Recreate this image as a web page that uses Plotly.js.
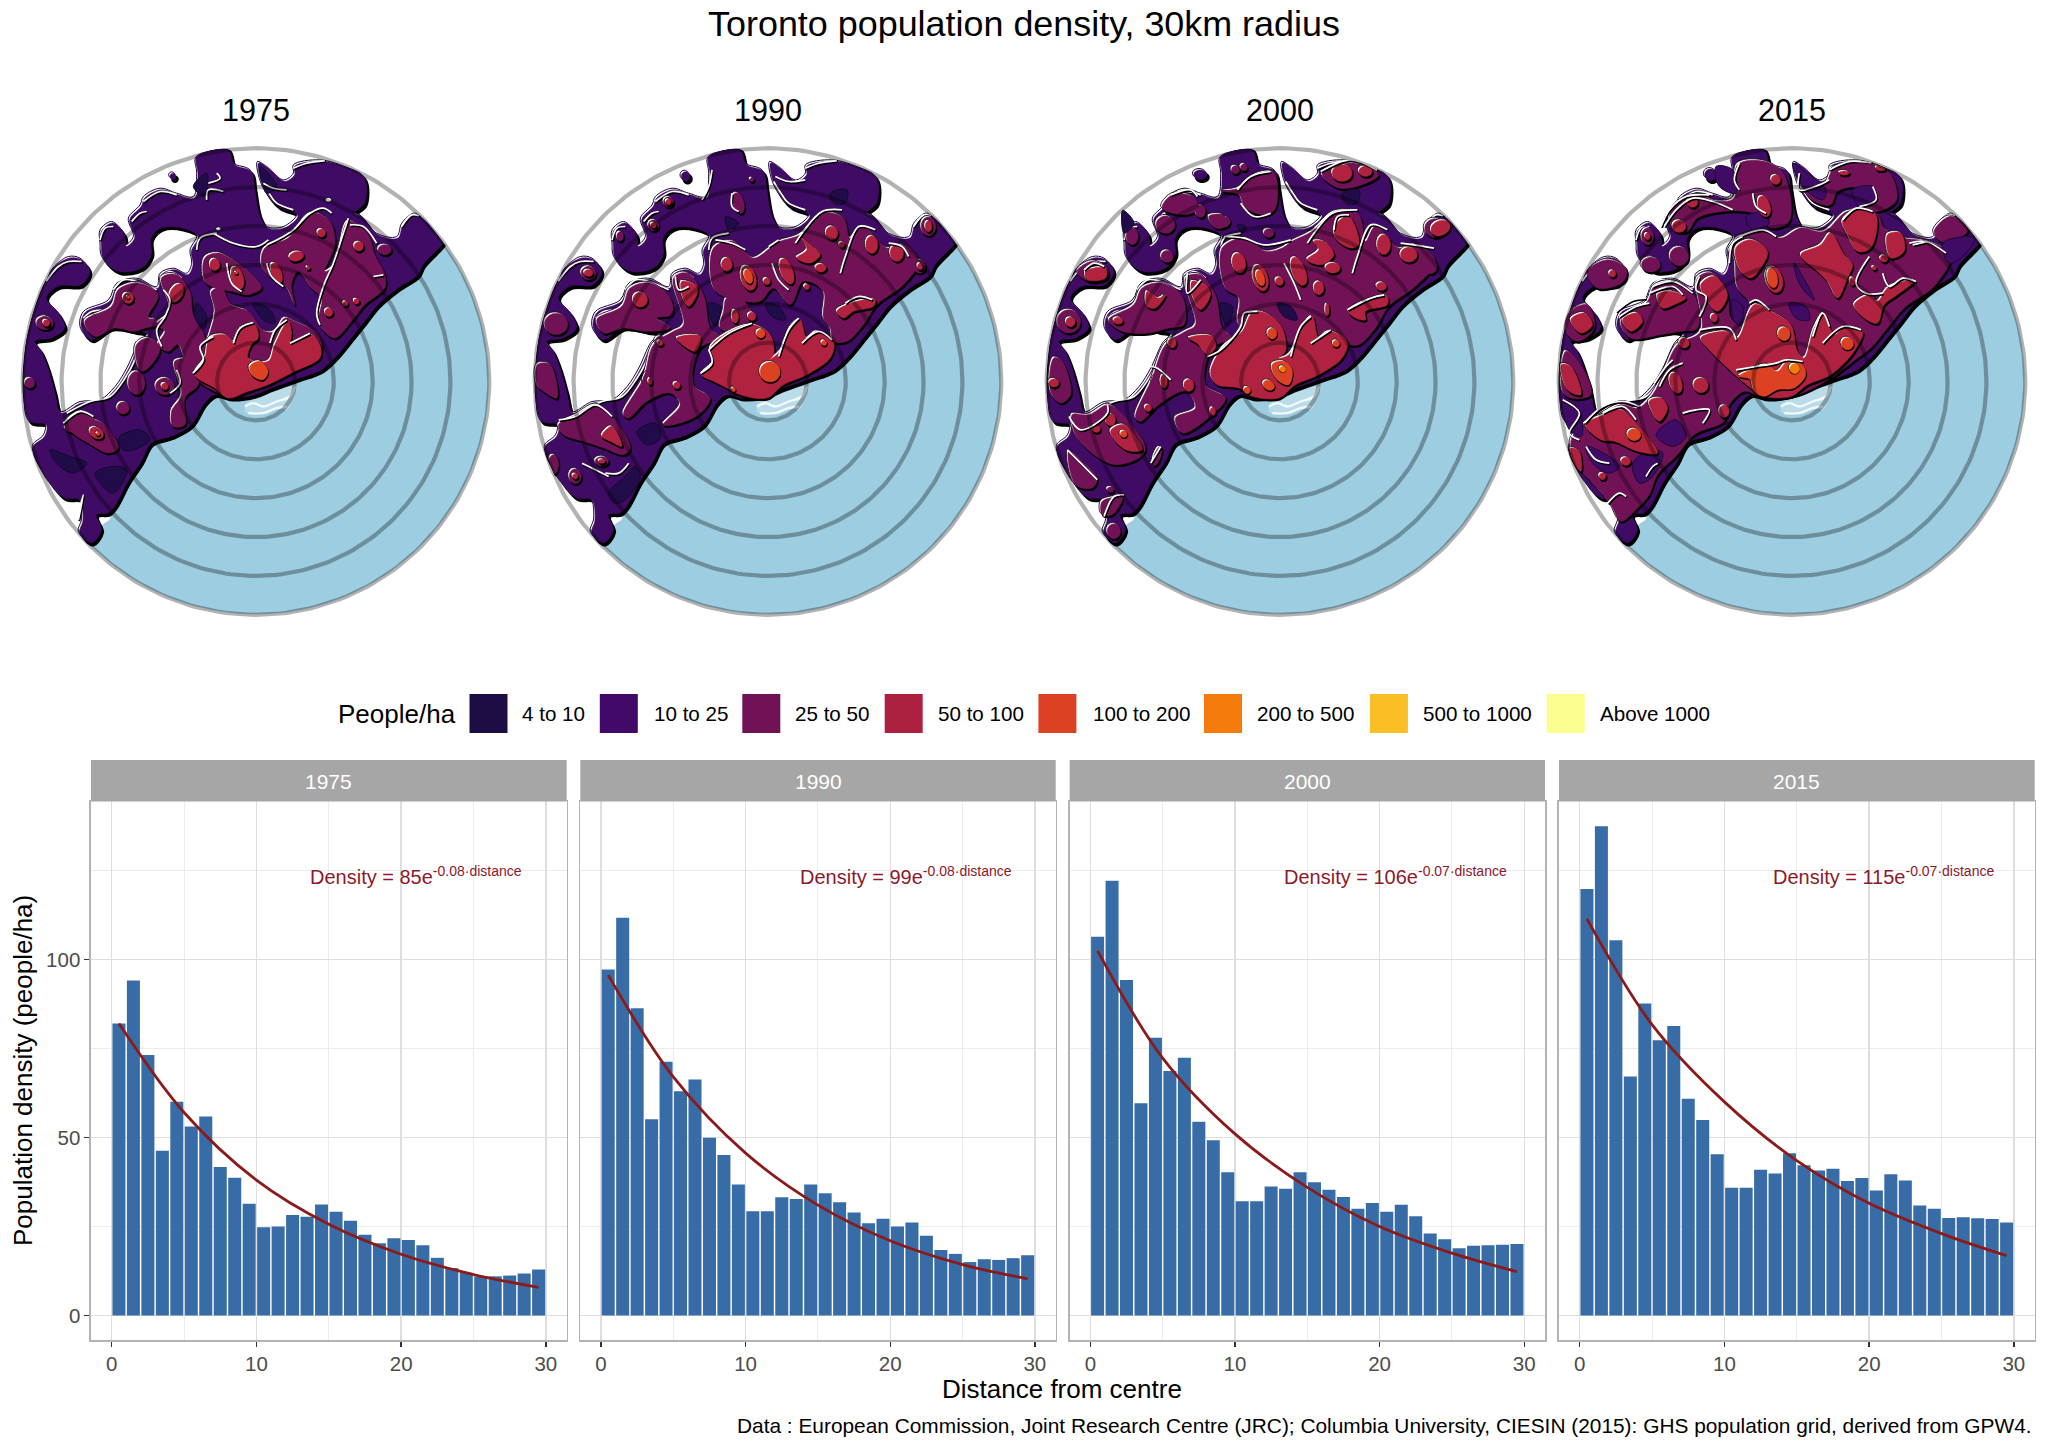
<!DOCTYPE html>
<html><head><meta charset="utf-8">
<script src="https://cdn.plot.ly/plotly-3.0.1.min.js"></script>
<style>html,body{margin:0;padding:0;background:#fff}</style></head>
<body><div id="chart" style="width:2048px;height:1451px"></div>
<script>
// ---------- bar data (people/ha by 1 km distance bin) ----------
const years = ["1975", "1990", "2000", "2015"];
const distanceBins = [0.5,1.5,2.5,3.5,4.5,5.5,6.5,7.5,8.5,9.5,10.5,11.5,12.5,13.5,14.5,15.5,16.5,17.5,18.5,19.5,20.5,21.5,22.5,23.5,24.5,25.5,26.5,27.5,28.5,29.5];
const density1975 = [82,94.1,73.2,46.3,60,53.1,55.9,41.7,38.7,31.4,24.8,25,28.2,27.7,31.2,29.1,26.6,22.7,20.3,21.7,21.2,19.7,16.2,13.3,12,10.9,11,11.2,11.8,12.9];
const density1990 = [97.2,111.7,86.3,55.1,71.3,63,66.3,49.9,45.1,36.8,29.3,29.3,33.2,32.7,36.8,34.3,31.8,28.9,25.9,27.2,25,26.1,22.4,18.4,17.3,15,15.8,15.6,16.1,16.9];
const density2000 = [106.4,122.1,94.2,59.6,78,68.7,72.4,54.4,49.2,40.2,32.1,32.1,36.2,35.6,40.2,37.4,35.3,33.3,30,31.6,29.1,31.1,27.9,23,21.4,18.9,19.6,19.7,19.9,20.1];
const density2015 = [119.8,137.4,105.4,67.1,87.6,77.3,81.3,60.9,54.9,45.3,35.9,35.9,40.9,39.9,45.6,42.2,40.7,41.2,37.8,38.6,35.1,39.7,37.9,30.9,30,27.4,27.6,27.3,27.1,26.1];
const fitDistance = [0.5,5,10,15,20,25,29.5];
const fit1975 = [82,57,38,25.6,17.2,11.5,7.9];
const fit1990 = [95.6,67,45.6,31,21,14.3,10.3];
const fit2000 = [102.4,72.3,51,36,25,17.5,12.3];
const fit2015 = [111.4,81.7,60,43.5,31.5,23,16.8];
const fitIntercepts = ["85","99","106","115"];
const fitRates = ["-0.08","-0.08","-0.07","-0.07"];

// ---------- legend ----------
const legendLabels = ["4 to 10","10 to 25","25 to 50","50 to 100","100 to 200","200 to 500","500 to 1000","Above 1000"];
const legendColors = ["#1e0c45","#420a68","#711257","#ac2140","#dd4124","#f57b0c","#fabf25","#fcfd8f"];

// ---------- map data: outlines (700 units = 30 km) ----------
const lakeShore = [[1325,335],[1265,400],[1250,430],[1190,470],[1130,520],[1090,570],[1050,620],[1000,680],[960,715],[880,745],[810,770],[760,790],[690,800],[640,790],[610,815],[570,880],[510,915],[450,935],[420,990],[380,1050],[340,1125],[330,1170],[300,1190],[275,1240]];
const landRing = [[1325,335],[1265,400],[1250,430],[1190,470],[1130,520],[1090,570],[1050,620],[1000,680],[960,715],[880,745],[810,770],[760,790],[690,800],[640,790],[610,815],[570,880],[510,915],[450,935],[420,990],[380,1050],[340,1125],[320,1145],[285,1150],[300,1195],[270,1235],[235,1205],[245,1165],[235,1105],[190,1100],[150,1060],[100,1000],[85,950],[130,915],[135,880],[85,870],[60,800],[50,640],[60,520],[125,440],[155,410],[205,380],[240,385],[265,420],[240,460],[170,465],[135,500],[175,550],[190,590],[150,620],[100,630],[120,660],[140,710],[160,780],[180,845],[240,815],[300,810],[345,770],[380,715],[415,640],[440,610],[400,600],[330,590],[270,625],[240,590],[250,545],[325,510],[350,460],[410,445],[470,470],[480,430],[520,415],[560,430],[575,400],[570,360],[590,315],[540,290],[480,290],[450,320],[450,370],[420,410],[350,420],[305,380],[300,340],[300,300],[335,275],[370,310],[375,345],[400,320],[385,265],[420,225],[430,200],[480,175],[530,190],[580,200],[590,130],[585,70],[680,50],[700,100],[750,120],[760,170],[775,250],[800,290],[850,290],[890,255],[880,245],[830,225],[785,165],[772,95],[800,110],[850,150],[880,130],[880,105],[960,90],[1050,100],[1090,140],[1090,215],[1060,245],[1080,255],[1130,310],[1190,320],[1205,280],[1240,250],[1265,240],[1340,320]];
const landHoles = [[985,210,10,7],[655,297,8,6]];
const islandPatch = [[[740,850],[735,825],[790,800],[880,770],[880,800],[860,840],[830,835],[790,850]]];
const islandWisps = [[[735,830],[760,820],[790,830],[830,815],[870,800],[885,770]],[[745,850],[790,850],[830,835],[860,830]]];
const landDots = {"1975":[[515,135,9,9],[925,207,8,8]],"1990":[[517,135,13,14]],"2000":[[525,130,20,14]],"2015":[[520,130,18,17]]};
const landGlints = [[[130,450],[175,410],[205,395],[245,395]],[[300,330],[315,295],[340,290]],[[395,275],[420,250],[440,245]],[[430,215],[480,185],[530,195]],[[880,115],[920,100],[975,92]],[[785,155],[810,195],[830,220],[880,240]],[[1205,290],[1235,255],[1260,255]],[[250,565],[275,545],[330,540]],[[340,480],[370,450],[410,455],[470,480]],[[480,445],[510,425],[545,445]],[[415,650],[400,700],[375,745],[330,800],[270,815],[200,850]],[[590,360],[600,325],[650,310]]];

// 1975
const patch4_1975 = [[[285,1030],[340,1010],[380,1020],[340,1090],[300,1060]],[[150,960],[210,980],[260,1000],[220,1030],[170,1000]],[[355,925],[420,900],[450,930],[400,960],[370,960]],[[760,520],[810,540],[825,580],[790,570]],[[580,170],[620,130],[615,200]],[[780,110],[830,170],[800,190]],[[590,520],[620,560],[610,600],[585,560]]];
const band25_1975 = [[[250,570],[330,525],[350,475],[410,455],[470,490],[440,560],[470,580],[430,590],[400,600],[340,590],[280,615]],[[480,440],[525,430],[565,480],[575,550],[610,620],[590,690],[560,700],[530,640],[500,660],[470,640],[490,600],[465,580],[505,540]],[[520,690],[590,690],[590,760],[550,800],[550,880],[515,885],[510,840],[540,790]],[[405,640],[440,620],[475,650],[450,700],[420,720],[405,690]],[[790,350],[860,320],[930,245],[985,270],[1000,340],[970,420],[1000,400],[1040,270],[1100,310],[1120,370],[1150,430],[1150,470],[1090,520],[1050,570],[1000,620],[960,590],[950,570],[960,500],[930,470],[890,420],[870,460],[880,520],[850,460],[810,440],[780,400]],[[610,380],[650,365],[700,390],[770,450],[780,470],[740,490],[690,480],[640,470],[610,450]],[[630,480],[660,470],[690,520],[740,540],[790,600],[820,600],[850,560],[880,570],[950,610],[960,660],[920,700],[830,730],[700,790],[640,780],[580,730],[620,620],[640,540]],[[190,880],[240,840],[270,860],[310,880],[350,950],[320,965],[260,935],[220,910]]];
const dots25_1975 = [[405,755,25,35],[490,765,28,25],[365,830,18,18],[130,575,25,20],[445,570,20,8],[290,568,20,15],[1150,355,20,15],[1100,400,15,12],[85,755,15,15],[210,890,20,12]];
const band50_1975 = [[[580,730],[610,680],[625,620],[670,610],[700,630],[720,590],[760,580],[770,620],[750,640],[740,680],[800,690],[820,640],[860,570],[870,600],[870,640],[930,610],[955,640],[955,680],[880,720],[800,760],[740,780],[680,800],[640,770]]];
const dots50_1975 = [[380,500,16,16],[525,485,18,30,30],[640,400,15,18],[708,440,18,35,-15],[885,375,22,14,-15],[825,425,15,32,-20],[960,305,12,12],[1072,345,14,14],[982,543,12,12],[1065,510,8,8],[1032,517,7,7],[490,765,10,10],[285,905,22,16,30],[738,605,14,14],[135,575,10,10],[920,410,5,5]];
const band100_1975 = [[[745,705],[775,690],[800,720],[785,745],[755,735]]];
const dots100_1975 = [[705,425,4,4],[290,908,5,5],[380,498,4,4]];
const glints_1975 = [[[800,345],[850,320],[880,300],[930,250],[970,235],[995,250]],[[1045,265],[1030,310],[1000,400],[970,470],[950,550],[960,585]],[[1050,285],[1090,290],[1130,340]],[[640,310],[700,340],[770,350],[805,330]],[[490,480],[510,510],[495,560],[470,600],[485,650]],[[680,400],[695,460],[725,485]],[[640,620],[600,650],[610,690],[578,730]],[[700,640],[720,595],[760,578]],[[810,640],[825,600],[860,570]],[[870,640],[930,610]],[[190,880],[240,845],[280,860]],[[510,790],[540,760],[530,720]],[[800,400],[815,440],[850,470]],[[625,160],[660,145],[650,130]],[[620,210],[625,180],[670,185]],[[790,160],[820,175],[860,180]],[[240,1130],[250,1095],[235,1170]],[[1120,440],[1150,435]]];

// 1990
const patch4_1990 = [[[640,260],[680,280],[650,300]],[[760,520],[800,530],[820,570],[780,560]],[[955,190],[1005,180],[1000,220],[965,220]],[[290,1090],[340,1040],[370,1010],[385,1040],[340,1110],[310,1120]],[[590,520],[625,530],[610,590],[595,560]],[[375,905],[430,880],[445,925],[405,945]]];
const band25_1990 = [[[250,565],[325,525],[350,470],[410,455],[470,500],[475,550],[430,560],[470,590],[400,600],[330,590],[270,605]],[[480,440],[520,425],[570,490],[590,590],[620,620],[560,650],[540,760],[590,800],[555,850],[480,880],[450,880],[500,820],[470,785],[400,810],[345,860],[330,850],[390,740],[420,640],[480,600],[510,580]],[[600,350],[660,330],[720,380],[770,350],[800,330],[860,310],[930,245],[990,260],[1010,320],[1050,285],[1120,350],[1170,340],[1215,390],[1170,460],[1090,520],[1050,580],[1000,630],[960,630],[950,590],[930,560],[930,480],[870,450],[830,520],[780,470],[740,510],[690,510],[640,500],[600,470]],[[640,500],[690,510],[720,560],[650,600],[620,590],[630,540]],[[135,880],[190,850],[250,820],[300,860],[350,950],[330,970],[270,950],[210,930],[150,910]],[[72,700],[110,700],[130,800],[90,780],[70,760]]];
const dots25_1990 = [[128,578,35,32],[225,425,22,20],[1245,285,22,28],[465,212,15,15],[420,282,16,16],[320,315,10,14],[675,215,16,32,-15],[410,750,22,30],[490,762,18,18],[185,1035,18,22],[265,990,20,14],[1160,370,30,30],[1218,405,18,20],[440,630,15,15],[715,145,6,6],[1105,400,15,12],[120,1000,15,30]];
const band50_1990 = [[[565,730],[600,690],[590,650],[650,600],[720,580],[770,610],[780,670],[760,690],[800,660],[830,590],[860,565],[880,620],[910,600],[960,630],[950,680],[880,730],[810,760],[760,800],[680,790],[640,770],[600,750]],[[505,450],[550,465],[550,490],[525,525],[505,490]],[[865,320],[895,345],[920,370],[890,395],[850,380],[880,355]],[[970,540],[1030,510],[1085,505],[1080,525],[1020,540],[990,560]],[[490,620],[560,615],[545,660]],[[265,915],[295,885],[325,945],[290,930]]];
const dots50_1990 = [[380,505,22,22],[640,400,16,20],[705,440,22,38,-15],[820,420,18,40,-20],[955,305,18,20],[1075,340,18,26],[1150,365,20,25],[922,410,16,12],[880,467,8,8],[760,450,10,10],[715,555,12,12],[665,555,10,20],[440,635,8,8],[410,750,6,10],[490,762,10,10],[1245,285,10,16],[225,425,13,10],[465,212,8,8],[420,282,8,8],[185,1035,8,8],[265,990,10,6],[985,340,8,8],[1220,405,8,10],[665,775,10,10],[738,770,8,8]];
const dots100_1990 = [[770,722,30,30],[705,435,12,22,-15],[742,607,13,13],[932,635,8,8],[660,775,6,6]];
const glints_1990 = [[[850,340],[870,310],[930,245],[990,240]],[[985,430],[1000,380],[1040,290],[1090,300]],[[1130,340],[1170,350],[1190,380]],[[610,330],[660,340],[700,360]],[[770,350],[800,330]],[[490,440],[500,480],[530,470]],[[590,660],[650,610],[720,580]],[[565,730],[600,700],[590,660]],[[800,680],[830,600],[860,565]],[[870,640],[920,605],[960,630]],[[1000,520],[1040,500],[1080,510]],[[140,870],[190,860],[250,825],[300,860]],[[660,190],[660,230],[680,245]],[[600,120],[590,170],[570,210]],[[790,140],[830,155],[880,150]],[[780,400],[800,450],[830,480]],[[280,1030],[320,1030],[350,1000]],[[210,1000],[250,1020],[290,1040]]];

// 2000
const patch4_2000 = [[[760,520],[800,530],[820,570],[780,560]],[[640,285],[665,290],[655,310]],[[955,190],[1005,180],[1000,220],[965,220]],[[590,520],[625,530],[610,590],[595,560]],[[295,240],[330,280],[300,310]]];
const band25_2000 = [[[590,180],[640,170],[690,130],[745,125],[750,230],[720,250],[660,230],[640,190]],[[410,230],[440,190],[500,195],[520,230],[480,250]],[[890,130],[980,95],[1060,130],[1010,160],[940,170]],[[550,255],[590,250],[610,280],[570,290]],[[250,565],[325,520],[350,470],[410,455],[470,495],[475,580],[430,590],[370,605],[290,600]],[[480,440],[525,430],[570,490],[590,590],[620,620],[560,650],[540,760],[600,800],[560,850],[470,905],[450,860],[510,830],[480,780],[400,820],[345,870],[330,860],[380,740],[420,640],[480,600],[510,580]],[[590,350],[660,320],[720,360],[770,350],[800,330],[860,300],[930,240],[1000,250],[1020,330],[1050,285],[1120,350],[1170,340],[1230,390],[1170,465],[1090,525],[1050,590],[1000,640],[960,640],[880,650],[780,640],[740,650],[640,580],[640,500],[600,470]],[[155,420],[200,390],[245,410],[245,440],[190,450]],[[85,680],[110,690],[135,790],[105,815],[75,780]],[[140,850],[190,850],[250,820],[300,860],[360,950],[340,980],[270,1000],[220,980],[150,910]],[[130,960],[180,1000],[215,1040],[200,1070],[150,1060]],[[230,1110],[290,1100],[260,1150],[230,1150]]];
const dots25_2000 = [[130,570,35,35],[265,1200,20,22],[320,315,18,25],[420,280,28,26],[425,375,18,18],[1230,290,32,28],[730,305,15,13],[630,115,12,12],[655,108,10,10],[590,270,25,15],[525,240,15,18],[1215,405,20,22],[405,755,25,30],[368,830,15,15],[490,760,20,22],[395,975,10,30,20],[255,1075,10,8]];
const band50_2000 = [[[555,725],[590,650],[650,600],[680,545],[720,545],[770,590],[780,660],[760,680],[790,670],[830,590],[860,555],[880,620],[910,600],[965,630],[950,680],[880,730],[810,760],[760,800],[680,795],[640,770],[575,760]],[[490,620],[560,615],[570,650],[545,670],[520,640]],[[970,540],[1030,505],[1085,495],[1085,520],[1020,540],[1020,565],[990,560]],[[865,330],[895,330],[925,370],[890,400],[845,385],[880,355]],[[930,280],[970,255],[1000,340],[975,350],[930,320]],[[500,450],[545,465],[555,490],[525,535],[500,490]],[[365,480],[400,500],[420,490],[390,530],[365,525]],[[180,420],[240,410],[240,440],[185,445]],[[255,900],[295,880],[350,955],[300,955]]];
const dots50_2000 = [[640,395,20,30,-10],[705,440,22,40,-15],[820,420,20,45,-20],[1075,340,20,30],[1150,370,25,22],[922,410,22,15],[880,470,15,20],[762,450,12,12],[1068,465,15,12],[1245,290,30,22,-25],[135,572,14,14],[278,568,14,10],[440,635,12,14],[490,762,15,18],[415,750,10,20],[368,830,10,10],[212,893,12,10],[255,865,15,18],[85,755,15,12],[562,840,8,12],[950,125,30,25],[1020,120,20,15],[905,535,6,18]];
const band100_2000 = [[[740,700],[775,690],[800,715],[790,760],[755,745]]];
const dots100_2000 = [[705,440,12,24,-15],[740,607,14,16],[932,637,10,10],[730,762,18,14,30],[665,777,10,10],[295,908,10,10]];
const dots200_2000 = [[772,714,9,9]];
const glints_2000 = [[[850,340],[870,310],[925,250],[1000,240]],[[930,300],[940,260],[975,255]],[[985,430],[1000,380],[1040,285],[1090,300]],[[1130,340],[1170,345],[1230,355]],[[600,320],[660,325],[720,345],[800,330]],[[490,430],[490,490],[530,450]],[[550,680],[590,660],[650,590],[660,550],[700,545]],[[800,680],[830,590],[860,560]],[[860,640],[920,600]],[[970,540],[1040,505],[1080,495]],[[640,180],[680,140],[740,125]],[[650,220],[690,260],[740,250]],[[440,195],[500,180],[520,200]],[[890,125],[980,90],[1060,120]],[[180,420],[210,400],[240,410]],[[135,860],[170,900],[250,850],[250,825]],[[380,710],[400,715],[440,750]],[[240,1160],[270,1100],[300,1095]],[[130,960],[170,1000],[220,1050]],[[380,1000],[410,950]],[[780,400],[810,460],[830,510]]];

// 2015
const band25_2015 = [[[590,200],[600,100],[680,90],[740,130],[755,270],[700,290],[660,250],[620,240],[560,240],[480,260],[450,300],[420,300],[395,260],[420,215],[480,190],[540,210]],[[780,110],[860,160],[890,110],[990,95],[1060,130],[1075,210],[1000,240],[960,170],[900,180],[880,220],[830,210],[790,160]],[[575,360],[610,320],[680,300],[730,320],[790,290],[860,300],[930,240],[1020,250],[1040,290],[1100,320],[1170,330],[1240,370],[1190,465],[1100,530],[1050,590],[1000,650],[960,680],[880,740],[780,790],[680,800],[620,780],[570,830],[560,870],[470,910],[420,970],[360,1030],[335,1090],[300,1130],[250,1170],[220,1120],[170,1060],[120,1000],[100,930],[135,880],[190,850],[250,820],[300,830],[345,790],[380,720],[420,640],[490,600],[480,440],[525,425],[570,490],[580,560],[620,590],[640,520],[600,470],[590,380]],[[95,540],[150,520],[170,590],[120,630],[85,600]],[[150,420],[210,385],[265,410],[260,450],[180,470]],[[85,660],[130,700],[160,790],[100,800],[75,780]],[[250,570],[330,510],[350,465],[410,450],[470,490],[480,590],[430,600],[370,610],[280,620]],[[1190,300],[1240,255],[1290,300],[1250,325],[1210,330]]];
const dots25_2015 = [[425,375,28,28],[330,315,18,25],[340,400,28,22]];
const patch10_2015 = [[[290,1000],[350,960],[380,970],[350,1040],[310,1060]],[[360,915],[420,870],[450,920],[410,950]],[[775,400],[800,440],[835,510],[815,495],[785,450]],[[590,510],[620,530],[610,590],[590,560]],[[150,950],[220,980],[250,1010],[220,1030],[170,1000]],[[80,810],[130,840],[135,920],[100,900]],[[630,260],[680,250],[700,280],[650,300]],[[540,110],[590,120],[600,190],[550,170]],[[770,100],[800,120],[870,180],[860,210],[800,170]],[[950,180],[1010,170],[1020,210],[970,230]],[[1220,340],[1320,320],[1290,370],[1240,400]],[[760,520],[810,530],[820,570],[780,565]]];
const band50_2015 = [[[490,620],[560,600],[575,605],[600,620],[650,520],[700,540],[760,580],[780,660],[800,680],[830,590],[860,545],[890,610],[920,590],[975,600],[950,660],[880,730],[810,760],[760,795],[680,795],[640,770],[560,700],[520,660]],[[790,370],[850,340],[880,305],[920,370],[945,400],[930,440],[900,500],[870,450],[840,420]],[[915,270],[960,235],[1015,250],[1000,350],[960,360],[930,310]],[[595,350],[640,325],[690,360],[670,410],[640,440],[610,420]],[[490,460],[530,435],[570,490],[540,540],[510,510]],[[360,490],[400,480],[445,500],[410,520],[375,530]],[[255,565],[300,545],[315,570],[280,600]],[[145,880],[200,850],[250,835],[300,880],[360,965],[300,960],[230,930],[190,925]],[[1050,310],[1090,305],[1100,360],[1060,380]],[[950,520],[1000,490],[1020,510],[1050,470],[1100,450],[1130,450],[1080,490],[1040,520],[1020,575],[980,560]],[[100,565],[140,545],[165,580],[130,605]],[[72,700],[100,705],[130,790],[90,775]],[[100,950],[125,960],[130,1020],[100,1000]],[[335,810],[370,800],[390,830],[365,870]]];
const dots50_2015 = [[415,755,18,32,-15],[490,762,22,22],[440,635,15,15],[225,427,10,10],[265,990,14,12],[195,1035,10,10],[560,840,15,18],[530,560,10,12],[1040,382,12,10],[1010,410,6,6],[945,450,8,12],[840,620,6,6],[830,658,10,10],[465,212,16,16],[425,285,20,18],[330,315,8,10],[680,225,18,32,-15],[715,145,14,14],[920,125,15,6],[1030,110,15,8],[710,445,25,40,-15]];
const band100_2015 = [[[605,735],[640,715],[690,700],[720,720],[750,690],[790,695],[805,730],[770,770],[720,775],[680,795],[650,780],[640,745]]];
const dots100_2015 = [[740,608,18,20],[930,637,18,18],[705,440,15,30,-10],[290,910,20,18]];
const dots200_2015 = [[772,712,15,15]];
const glints_2015 = [[[610,320],[680,300],[720,320]],[[580,400],[590,340],[620,320]],[[385,290],[420,240],[470,205],[530,215],[590,240]],[[375,290],[400,240],[450,200],[520,195]],[[650,190],[660,230],[690,250]],[[610,100],[595,150],[610,180]],[[790,130],[790,180],[850,165],[880,150]],[[880,120],[940,95],[1010,90]],[[1010,170],[1020,210],[970,230]],[[920,270],[960,235],[1010,245]],[[1120,340],[1170,335],[1230,370]],[[1000,380],[960,460],[990,490],[1040,490]],[[1040,430],[1060,470],[1100,445],[1140,455]],[[490,600],[580,595],[600,630]],[[600,720],[660,710],[720,700],[750,690],[800,695]],[[830,620],[860,550],[880,590]],[[860,640],[920,590],[975,600]],[[640,520],[660,510],[700,540]],[[490,440],[480,480],[510,500],[490,560]],[[350,470],[410,455],[470,490]],[[340,490],[410,470],[440,495]],[[250,560],[300,530],[340,520]],[[240,545],[290,510],[330,505]],[[145,880],[200,830],[260,815],[310,830]],[[200,850],[260,830],[300,870]],[[80,810],[130,850],[100,910],[130,930]],[[215,1120],[250,1090],[270,1100]],[[330,1040],[350,1010],[365,1000]],[[1130,345],[1175,335]],[[440,700],[400,720],[370,770]],[[355,760],[390,710],[410,690]],[[500,880],[520,840],[480,840],[440,850]],[[150,950],[180,990],[220,1000]]];

const ringRadii = [5,10,15,20,25,30];

const mapLayers = {
 "1975":{p4:patch4_1975,b25:band25_1975,d25:dots25_1975,b50:band50_1975,d50:dots50_1975,b100:band100_1975,d100:dots100_1975,g:glints_1975},
 "1990":{p4:patch4_1990,b25:band25_1990,d25:dots25_1990,b50:band50_1990,d50:dots50_1990,b100:[],d100:dots100_1990,g:glints_1990},
 "2000":{p4:patch4_2000,b25:band25_2000,d25:dots25_2000,b50:band50_2000,d50:dots50_2000,b100:band100_2000,d100:dots100_2000,d200:dots200_2000,g:glints_2000},
 "2015":{p10:patch10_2015,b25:band25_2015,d25:dots25_2015,b50:band50_2015,d50:dots50_2015,b100:band100_2015,d100:dots100_2015,d200:dots200_2015,g:glints_2015}
};

// ---------- geometry helpers ----------
const W = 2048, H = 1451, FONT = '"Liberation Sans", Arial, sans-serif';
const px = v => v / W, py = v => 1 - v / H;
const UNIT = 30 / 700, CX = 768, CY = 755;
function ellipse(d) {
  const [x, y, rx, ry, rot] = d, a = (rot || 0) * Math.PI / 180, out = [];
  for (let i = 0; i < 10; i++) {
    const t = i / 10 * 2 * Math.PI, u = rx * Math.cos(t), v = ry * Math.sin(t);
    out.push([x + u * Math.cos(a) - v * Math.sin(a), y + u * Math.sin(a) + v * Math.cos(a)]);
  }
  return out;
}
function path(rings, dx, dy, open) {
  const xs = [], ys = [];
  rings.forEach(r => {
    (open ? r : r.concat([r[0]])).forEach(p => {
      let x = (p[0] + dx - CX) * UNIT, y = (CY - p[1] - dy) * UNIT, k = Math.hypot(x, y);
      if (k > 29.9) { x *= 29.9 / k; y *= 29.9 / k; }
      xs.push(x); ys.push(y);
    });
    xs.push(null); ys.push(null);
  });
  return [xs, ys];
}
const traces = [];
function fillTrace(i, rings, dx, dy, color, lineColor, lineW) {
  const [x, y] = path(rings, dx, dy);
  traces.push({type:'scatter', mode:'lines', x, y, xaxis:'x'+(i+1), yaxis:'y'+(i+1), fill:'toself', fillcolor:color,
    line:{color:lineColor||color, width:lineW===undefined?0.5:lineW, shape:'spline', smoothing:1}, hoverinfo:'skip', showlegend:false});
}
function band(i, rings, dots, color, sx, sy) {
  const all = (rings||[]).concat((dots||[]).map(ellipse));
  if (!all.length) return;
  fillTrace(i, all, sx, sy, '#000000', '#000000', 1.2);
  fillTrace(i, all, 0, 0, '#ffffff', '#111111', 0.9);
  fillTrace(i, all, 4.5, 4.5, color);
}
function glint(i, lines) {
  const b = path(lines, 3, 4, true), w = path(lines, 0, 0, true);
  traces.push({type:'scatter', mode:'lines', x:b[0], y:b[1], xaxis:'x'+(i+1), yaxis:'y'+(i+1), line:{color:'#000000',width:2,shape:'spline'}, hoverinfo:'skip', showlegend:false});
  traces.push({type:'scatter', mode:'lines', x:w[0], y:w[1], xaxis:'x'+(i+1), yaxis:'y'+(i+1), line:{color:'#ffffff',width:1.7,shape:'spline'}, hoverinfo:'skip', showlegend:false});
}
function circle(r) {
  const xs = [], ys = [];
  for (let a = 0; a <= 240; a++) { xs.push(r * Math.cos(a / 120 * Math.PI)); ys.push(r * Math.sin(a / 120 * Math.PI)); }
  return [xs, ys];
}

// ---------- maps ----------
const mapCenters = [256, 768, 1280, 1792], mapCY = 381.5, MAP_R = 233.3, MAP_HALF = 240;
const layout = {
  width:W, height:H, margin:{l:0,r:0,t:0,b:0}, paper_bgcolor:'#fff', plot_bgcolor:'rgba(0,0,0,0)', showlegend:false, bargap:0.1,
  font:{family:FONT, color:'#000'},
  title:{text:'Toronto population density, 30km radius', font:{family:FONT,size:35.9,color:'#000'}, x:0.5, xanchor:'center', y:1-23/H, yanchor:'middle'},
  shapes:[], annotations:[]
};
years.forEach((yr, i) => {
  const lr = mapLayers[yr], kmHalf = MAP_HALF * 30 / MAP_R, cx = mapCenters[i];
  layout['xaxis'+(i+1)] = {domain:[px(cx-MAP_HALF), px(cx+MAP_HALF)], range:[-kmHalf,kmHalf], visible:false, fixedrange:true, anchor:'y'+(i+1)};
  layout['yaxis'+(i+1)] = {domain:[py(mapCY+MAP_HALF), py(mapCY-MAP_HALF)], range:[-kmHalf,kmHalf], visible:false, fixedrange:true, anchor:'x'+(i+1)};
  const a0 = Math.atan2(CY-lakeShore[lakeShore.length-1][1], lakeShore[lakeShore.length-1][0]-CX), a1 = Math.atan2(CY-lakeShore[0][1], lakeShore[0][0]-CX);
  const start = a0 < 0 ? a0 + 2*Math.PI : a0, end = (a1 < 0 ? a1 + 2*Math.PI : a1) + 2*Math.PI;
  const lk = path([lakeShore], 0, 0), lx = lk[0].slice(0,-2), ly = lk[1].slice(0,-2);
  for (let k = 0; k <= 90; k++) { const t = start + (end-start)*k/90; lx.push(29.9*Math.cos(t)); ly.push(29.9*Math.sin(t)); }
  traces.push({type:'scatter', mode:'lines', x:lx, y:ly, xaxis:'x'+(i+1), yaxis:'y'+(i+1), fill:'toself', fillcolor:'#9dcde0', line:{color:'#9dcde0',width:0.5}, hoverinfo:'skip', showlegend:false});
  // islands
  fillTrace(i, islandPatch, 0, 0, 'rgba(255,255,255,0.3)', 'rgba(255,255,255,0)', 0);
  const isl = path(islandWisps, 0, 0, true);
  traces.push({type:'scatter', mode:'lines', x:isl[0], y:isl[1], xaxis:'x'+(i+1), yaxis:'y'+(i+1), line:{color:'rgba(255,255,255,0.85)',width:2.4,shape:'spline'}, hoverinfo:'skip', showlegend:false});
  // land and density bands
  const landAll = [landRing].concat(landDots[yr].map(ellipse));
  fillTrace(i, landAll, 10, 13, '#000000', '#000000', 1.5);
  fillTrace(i, landAll, 0, 0, '#ffffff', '#15082e', 1);
  fillTrace(i, landAll, 4, 4.5, '#3f0b64');
  fillTrace(i, landHoles.map(ellipse), 0, 0, '#ffffff', '#000000', 1);
  glint(i, landGlints);
  band(i, lr.b25, lr.d25, '#711257', 8, 10);
  if (lr.p10) fillTrace(i, lr.p10, 0, 0, '#3f0b64', '#1a0a3a', 1);
  if (lr.p4) fillTrace(i, lr.p4, 0, 0, '#210c4a', '#150830', 1);
  band(i, lr.b50, lr.d50, '#b0223f', 8, 10);
  band(i, lr.b100, lr.d100, '#dd4124', 6, 8);
  band(i, lr.b200, lr.d200, '#f57b0c', 4, 5);
  glint(i, lr.g);
  // tidy the outside of the map and draw distance rings
  const outer = circle(31);
  traces.push({type:'scatter', mode:'lines', x:outer[0], y:outer[1], xaxis:'x'+(i+1), yaxis:'y'+(i+1), line:{color:'#ffffff',width:10}, hoverinfo:'skip', showlegend:false});
  ringRadii.forEach(r => {
    const c = circle(r);
    traces.push({type:'scatter', mode:'lines', x:c[0], y:c[1], xaxis:'x'+(i+1), yaxis:'y'+(i+1), line:{color:'rgba(0,0,0,0.3)',width:4.2}, hoverinfo:'skip', showlegend:false});
  });
  layout.annotations.push({xref:'paper',yref:'paper',x:px(cx),y:py(110),text:yr,showarrow:false,font:{family:FONT,size:30.5,color:'#000'},xanchor:'center',yanchor:'middle'});
});

// ---------- bar panels ----------
const panelLeft = [91, 580.3, 1069.7, 1559], panelRight = [566.7, 1055.7, 1545, 2034.7];
const panelTop = 801.4, panelBottom = 1340, stripTop = 760;
const eqLeft = [307.5, 797.5, 1281.5, 1771];
const seriesByYear = [density1975, density1990, density2000, density2015];
const fitByYear = [fit1975, fit1990, fit2000, fit2015];
years.forEach((yr, i) => {
  const n = i + 5, ax = {
    linecolor:'#b3b3b3', linewidth:1.6, mirror:true, showline:true, zeroline:false, gridcolor:'#dedede', gridwidth:1.3, fixedrange:true,
    ticks:'outside', ticklen:5, tickwidth:1.3, tickcolor:'#333333', tickfont:{family:FONT,size:20.5,color:'#4d4d4d'}
  };
  layout['xaxis'+n] = Object.assign({}, ax, {domain:[px(panelLeft[i]),px(panelRight[i])], range:[-1.43,31.44], tickvals:[0,10,20,30], ticktext:['0','10','20','30'], anchor:'y'+n,
    minor:{tickvals:[5,15,25], showgrid:true, gridcolor:'#ececec', gridwidth:1, ticks:''}});
  layout['yaxis'+n] = Object.assign({}, ax, {domain:[py(panelBottom),py(panelTop)], range:[-6.89,144.4], tickvals:[0,50,100], ticktext:['0','50','100'], showticklabels:i===0, ticks:i===0?'outside':'', anchor:'x'+n,
    minor:{tickvals:[25,75,125], showgrid:true, gridcolor:'#ececec', gridwidth:1, ticks:''}});
  traces.push({type:'bar', x:distanceBins, y:seriesByYear[i], xaxis:'x'+n, yaxis:'y'+n, width:0.9, marker:{color:'#386ca6', line:{width:0}}, hoverinfo:'skip', showlegend:false});
  traces.push({type:'scatter', mode:'lines', x:fitDistance, y:fitByYear[i], xaxis:'x'+n, yaxis:'y'+n, line:{color:'#8b1a1a',width:2.8,shape:'spline'}, hoverinfo:'skip', showlegend:false});
  layout.shapes.push({type:'rect',xref:'paper',yref:'paper',x0:px(panelLeft[i]),x1:px(panelRight[i]),y0:py(panelTop),y1:py(stripTop),fillcolor:'#a6a6a6',line:{width:0}});
  layout.annotations.push({xref:'paper',yref:'paper',x:px((panelLeft[i]+panelRight[i])/2),y:py(781),text:yr,showarrow:false,font:{family:FONT,size:21,color:'#fff'},xanchor:'center',yanchor:'middle'});
  layout.annotations.push({xref:'paper',yref:'paper',x:px(eqLeft[i]),y:py(875),text:'Density = '+fitIntercepts[i]+'e<sup>'+fitRates[i]+'·distance</sup>',showarrow:false,font:{family:FONT,size:20,color:'#8b1a2b'},xanchor:'left',yanchor:'middle'});
});

// ---------- legend ----------
const swatchLeft = [469.5,599.8,742.3,884.7,1038.4,1204,1369.9,1546.7], labelLeft = [519.5,651.5,793,935.5,1091,1254.5,1420.5,1597.5];
legendLabels.forEach((t, i) => {
  layout.shapes.push({type:'rect',xref:'paper',yref:'paper',x0:px(swatchLeft[i]),x1:px(swatchLeft[i]+38),y0:py(733),y1:py(694),fillcolor:legendColors[i],line:{width:0}});
  layout.annotations.push({xref:'paper',yref:'paper',x:px(labelLeft[i]),y:py(713.5),text:t,showarrow:false,font:{family:FONT,size:20.6,color:'#000'},xanchor:'left',yanchor:'middle'});
});
layout.annotations.push({xref:'paper',yref:'paper',x:px(336),y:py(713.5),text:'People/ha',showarrow:false,font:{family:FONT,size:26,color:'#000'},xanchor:'left',yanchor:'middle'});

// ---------- axis titles and source ----------
layout.annotations.push({xref:'paper',yref:'paper',x:px(1062),y:py(1389),text:'Distance from centre',showarrow:false,font:{family:FONT,size:26,color:'#000'},xanchor:'center',yanchor:'middle'});
layout.annotations.push({xref:'paper',yref:'paper',x:px(23),y:py(1071),text:'Population density (people/ha)',textangle:-90,showarrow:false,font:{family:FONT,size:26,color:'#000'},xanchor:'center',yanchor:'middle'});
layout.annotations.push({xref:'paper',yref:'paper',x:px(2034),y:py(1425.5),text:'Data : European Commission, Joint Research Centre (JRC); Columbia University, CIESIN (2015): GHS population grid, derived from GPW4.',showarrow:false,font:{family:FONT,size:20.87,color:'#000'},xanchor:'right',yanchor:'middle'});

Plotly.newPlot('chart', traces, layout, {staticPlot:true, displayModeBar:false});
</script></body></html>
